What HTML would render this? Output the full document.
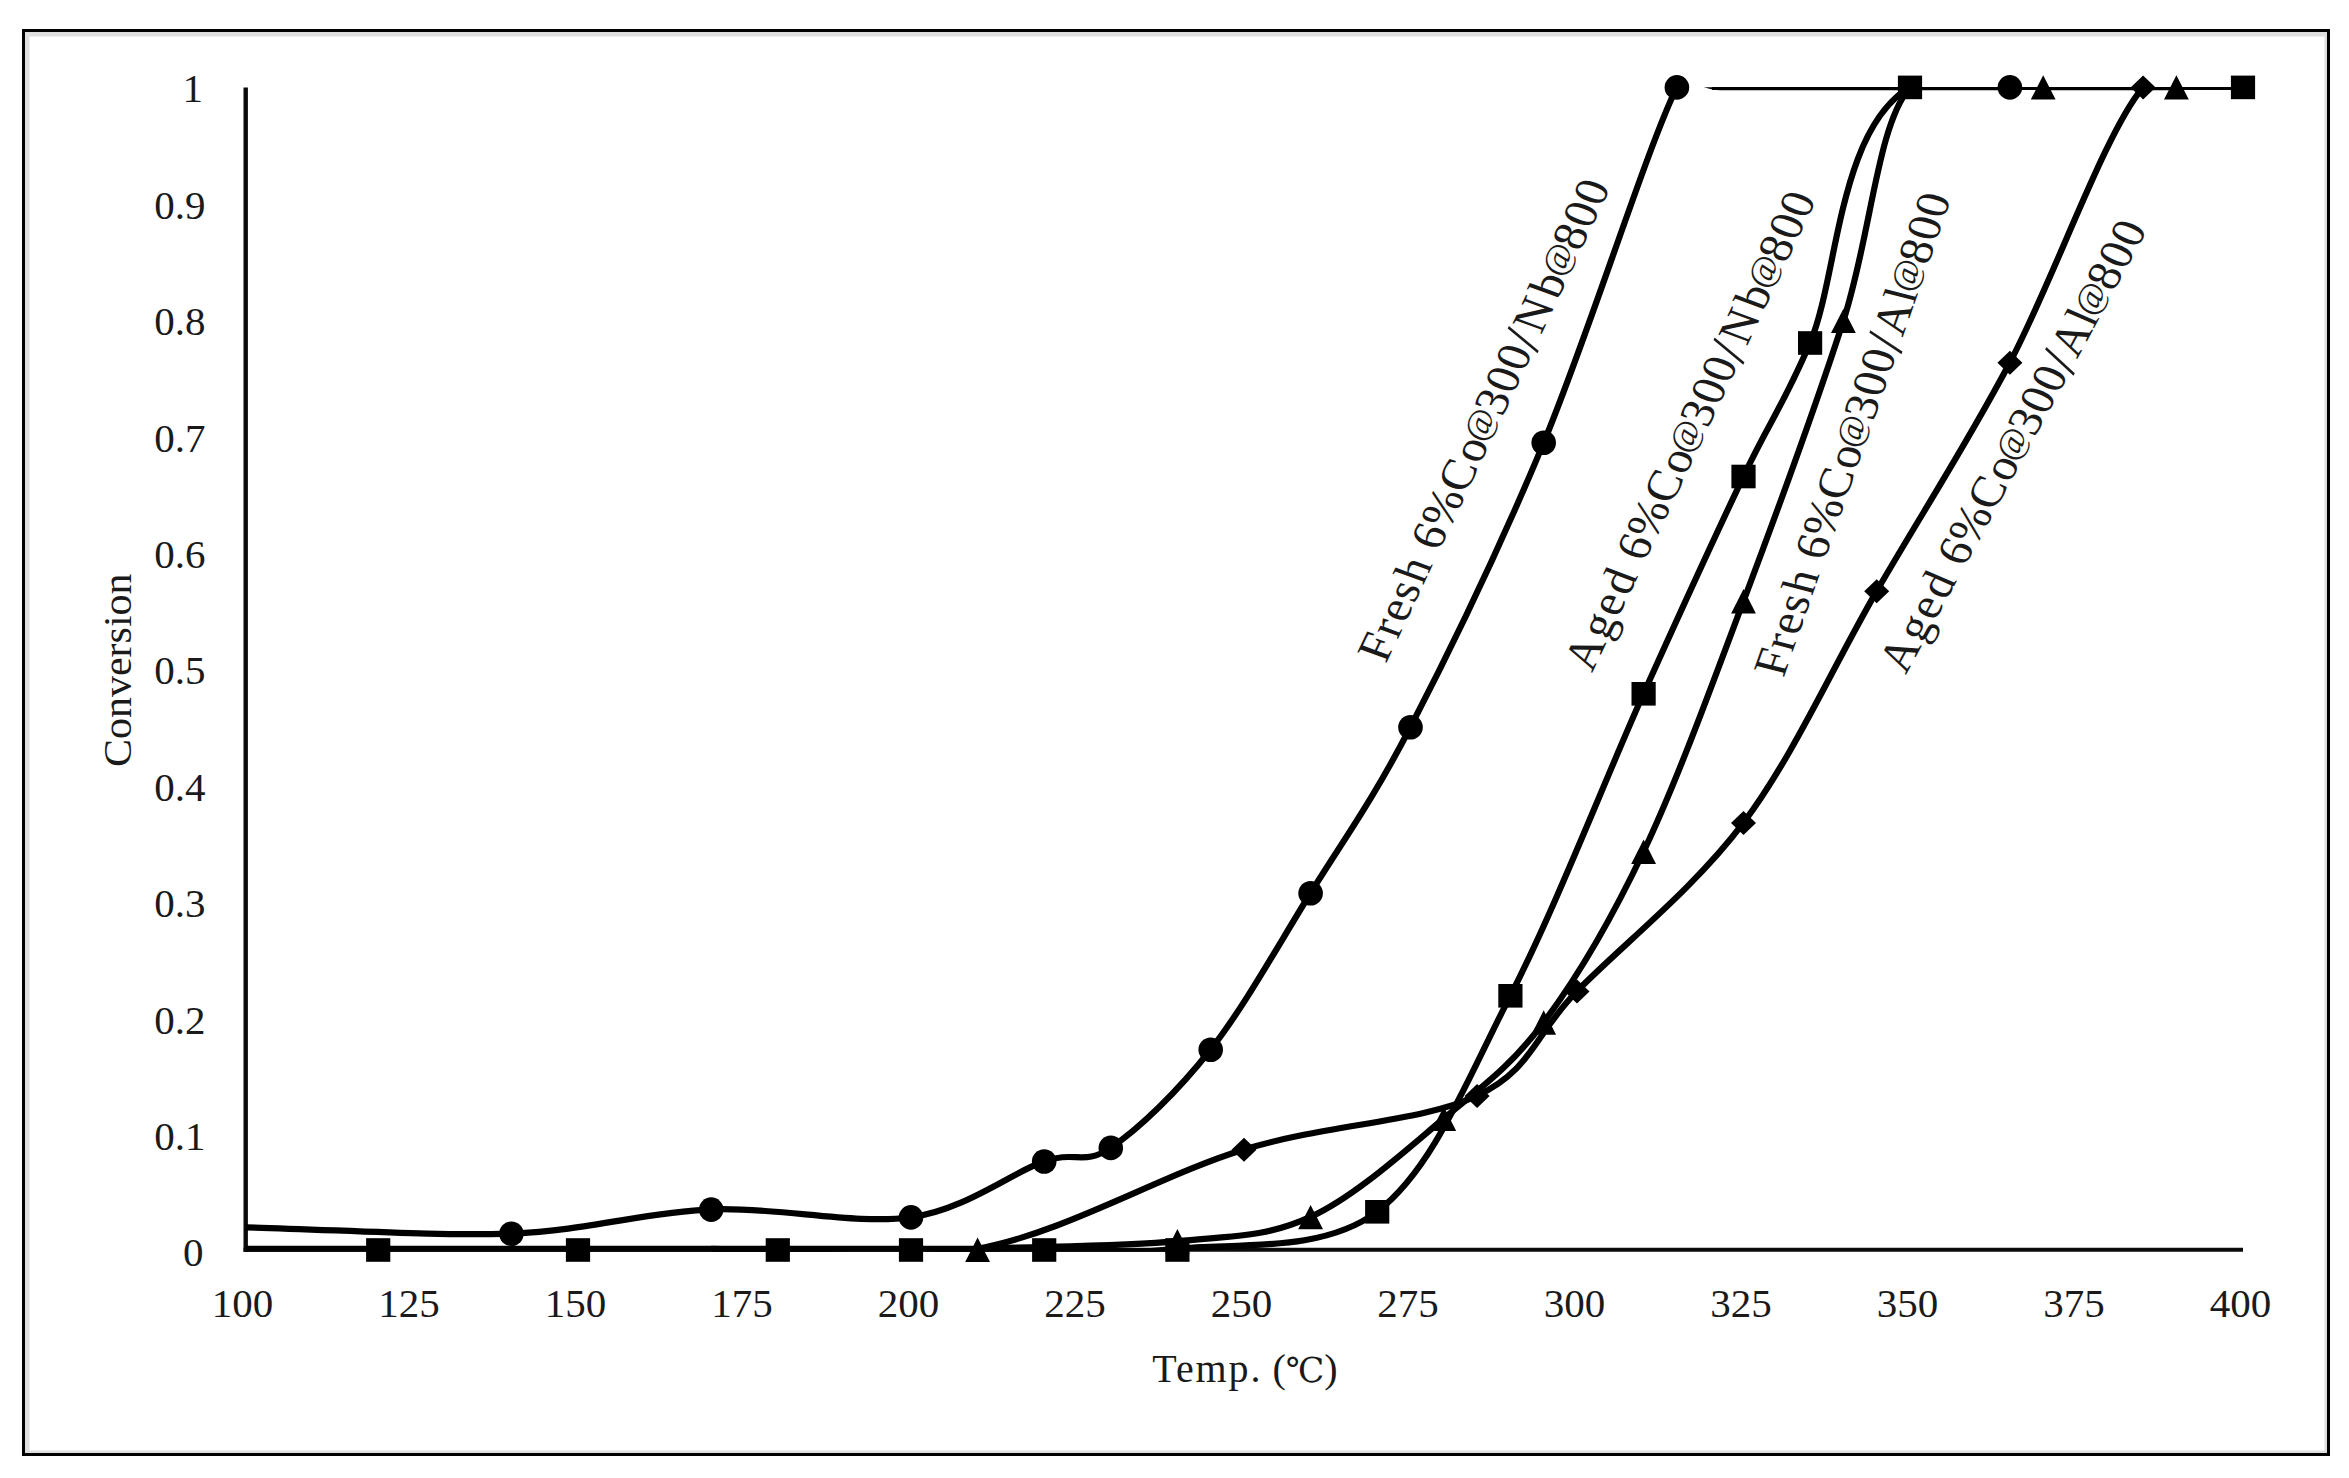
<!DOCTYPE html>
<html lang="en"><head><meta charset="utf-8"><title>Conversion vs Temp.</title>
<style>html,body{margin:0;padding:0;background:#fff}svg{display:block}text{font-family:"Liberation Serif","Noto Serif CJK SC","DejaVu Serif",serif;fill:#1a1a1a}</style></head><body>
<svg width="2349" height="1478" viewBox="0 0 2349 1478">
<rect x="0" y="0" width="2349" height="1478" fill="#fff"/>
<rect x="25" y="32" width="4.5" height="1421" fill="#dedede"/><rect x="25" y="32" width="2302" height="4.5" fill="#dedede"/>
<rect x="2324.5" y="32" width="2.5" height="1421" fill="#dedede"/><rect x="25" y="1450.5" width="2302" height="2.5" fill="#dedede"/>
<rect x="23.5" y="30.5" width="2305" height="1424" fill="none" stroke="#000" stroke-width="3"/>
<g stroke="#0a0a0a" fill="none">
<line x1="245.7" y1="87.5" x2="245.7" y2="1251.7" stroke-width="4.4"/>
<line x1="243.5" y1="1249.7" x2="2243" y2="1249.7" stroke-width="4"/>
</g>
<g font-size="41" text-anchor="end">
<text x="203.5" y="1266.4">0</text>
<text x="205.5" y="1150.0">0.1</text>
<text x="205.5" y="1033.6">0.2</text>
<text x="205.5" y="917.1">0.3</text>
<text x="205.5" y="800.7">0.4</text>
<text x="205.5" y="684.3">0.5</text>
<text x="205.5" y="567.9">0.6</text>
<text x="205.5" y="451.5">0.7</text>
<text x="205.5" y="335.0">0.8</text>
<text x="205.5" y="218.6">0.9</text>
<text x="203.0" y="102.2">1</text>
</g>
<g font-size="41" text-anchor="middle">
<text x="242.5" y="1316.9">100</text>
<text x="409.0" y="1316.9">125</text>
<text x="575.5" y="1316.9">150</text>
<text x="742.0" y="1316.9">175</text>
<text x="908.5" y="1316.9">200</text>
<text x="1075.0" y="1316.9">225</text>
<text x="1241.5" y="1316.9">250</text>
<text x="1408.0" y="1316.9">275</text>
<text x="1574.5" y="1316.9">300</text>
<text x="1741.0" y="1316.9">325</text>
<text x="1907.5" y="1316.9">350</text>
<text x="2074.0" y="1316.9">375</text>
<text x="2240.5" y="1316.9">400</text>
</g>
<text x="1245" y="1382.1" font-size="40" text-anchor="middle"><tspan letter-spacing="1.9">Temp.</tspan> (<tspan font-family="'DejaVu Serif','Noto Serif CJK SC',serif" font-size="34.5">℃</tspan>)</text>
<text transform="translate(131.2 670.2) rotate(-90)" font-size="41" text-anchor="middle" textLength="193.5" lengthAdjust="spacingAndGlyphs">Conversion</text>
<defs><clipPath id="plot"><rect x="246" y="87.2" width="2010" height="1164.6"/></clipPath></defs>
<g stroke="#000" stroke-width="6.2" fill="none" stroke-linejoin="round" clip-path="url(#plot)">
<path d="M245.0 1227.3 C333.8 1229.4 433.7 1236.4 511.4 1233.5 C589.1 1230.5 644.6 1212.1 711.2 1209.4 C777.8 1206.7 855.5 1225.2 911.0 1217.2 C966.5 1209.2 1010.9 1172.9 1044.2 1161.3 C1076.3 1150.2 1083.1 1166.4 1110.8 1147.7 C1138.6 1129.1 1177.4 1091.9 1210.7 1049.5 C1244.0 1007.0 1277.3 946.7 1310.6 893.0 C1343.9 839.3 1371.7 802.1 1410.5 727.0 C1449.3 652.0 1499.3 549.3 1543.7 442.6 C1588.1 336.0 1647.5 146.4 1676.9 87.2 C1686.5 67.8 1698.5 87.2 1720.2 87.2 C1775.7 87.2 1913.3 87.2 2009.9 87.2"/>
<path d="M211.7 1248.8 C267.2 1248.8 317.1 1248.8 378.2 1248.8 C439.2 1248.8 511.4 1248.8 578.0 1248.8 C644.6 1248.8 722.3 1248.8 777.8 1248.8 C833.3 1248.8 866.6 1248.8 911.0 1248.8 C955.4 1248.8 999.8 1248.8 1044.2 1248.8 C1088.6 1248.8 1121.9 1255.0 1177.4 1248.8 C1232.9 1242.6 1321.7 1253.8 1377.2 1211.6 C1432.7 1169.4 1466.0 1081.9 1510.4 995.6 C1554.8 909.2 1604.8 780.1 1643.6 693.6 C1682.5 607.0 1715.8 534.8 1743.5 476.3 C1771.2 417.9 1782.4 407.6 1810.1 342.8 C1837.9 277.9 1837.8 129.8 1910.0 87.2 C1982.2 44.6 2132.0 87.2 2243.0 87.2"/>
<path d="M977.6 1248.8 C1044.2 1246.2 1121.9 1246.5 1177.4 1241.1 C1232.9 1235.8 1266.2 1237.3 1310.6 1216.9 C1355.0 1196.4 1404.9 1150.9 1443.8 1118.5 C1482.7 1086.0 1510.4 1066.8 1543.7 1022.3 C1577.0 977.8 1610.3 921.7 1643.6 851.5 C1676.9 781.3 1710.2 689.6 1743.5 601.1 C1776.8 512.6 1815.7 406.3 1843.4 320.7 C1871.2 235.0 1876.7 126.1 1910.0 87.2 C1943.3 48.3 1998.8 87.2 2043.2 87.2 C2087.6 87.2 2132.0 87.2 2176.4 87.2"/>
<path d="M711.2 1248.8 C800.0 1248.8 888.8 1265.4 977.6 1248.8 C1066.4 1232.2 1160.8 1175.0 1244.0 1149.5 C1327.2 1124.0 1421.6 1122.2 1477.1 1095.8 C1532.6 1069.4 1532.6 1036.7 1577.0 991.2 C1621.4 945.6 1693.5 889.4 1743.5 822.7 C1793.5 756.0 1832.3 667.8 1876.7 591.1 C1921.1 514.4 1965.5 446.5 2009.9 362.5 C2054.3 278.5 2104.3 133.1 2143.1 87.2 C2175.4 49.1 2209.7 87.2 2243.0 87.2"/>
</g>
<rect x="1712" y="87" width="520" height="3" fill="#000"/>
<g fill="#000">
<circle cx="511.4" cy="1233.7" r="12.3"/>
<circle cx="711.2" cy="1209.6" r="12.3"/>
<circle cx="911.0" cy="1217.4" r="12.3"/>
<circle cx="1044.2" cy="1161.5" r="12.3"/>
<circle cx="1110.8" cy="1147.9" r="12.3"/>
<circle cx="1210.7" cy="1049.7" r="12.3"/>
<circle cx="1310.6" cy="893.2" r="12.3"/>
<circle cx="1410.5" cy="727.2" r="12.3"/>
<circle cx="1543.7" cy="442.8" r="12.3"/>
<circle cx="1676.9" cy="87.4" r="12.3"/>
<circle cx="2009.9" cy="87.4" r="12.3"/>
<path d="M1244.0 1137.7l12.5 12l-12.5 12l-12.5 -12z"/>
<path d="M1477.1 1084.0l12.5 12l-12.5 12l-12.5 -12z"/>
<path d="M1577.0 979.4l12.5 12l-12.5 12l-12.5 -12z"/>
<path d="M1743.5 810.9l12.5 12l-12.5 12l-12.5 -12z"/>
<path d="M1876.7 579.3l12.5 12l-12.5 12l-12.5 -12z"/>
<path d="M2009.9 350.7l12.5 12l-12.5 12l-12.5 -12z"/>
<path d="M2143.1 75.4l12.5 12l-12.5 12l-12.5 -12z"/>
<path d="M977.6 1237.6l12.4 24.4h-24.8z"/>
<path d="M1177.4 1229.1l12.4 24.4h-24.8z"/>
<path d="M1310.6 1204.9l12.4 24.4h-24.8z"/>
<path d="M1443.8 1106.5l12.4 24.4h-24.8z"/>
<path d="M1543.7 1010.3l12.4 24.4h-24.8z"/>
<path d="M1643.6 839.5l12.4 24.4h-24.8z"/>
<path d="M1743.5 589.1l12.4 24.4h-24.8z"/>
<path d="M1843.4 308.7l12.4 24.4h-24.8z"/>
<path d="M2043.2 75.2l12.4 24.4h-24.8z"/>
<path d="M2176.4 75.2l12.4 24.4h-24.8z"/>
<rect x="366.1" y="1238.2" width="24.2" height="23.6"/>
<rect x="565.9" y="1238.2" width="24.2" height="23.6"/>
<rect x="765.7" y="1238.2" width="24.2" height="23.6"/>
<rect x="898.9" y="1238.2" width="24.2" height="23.6"/>
<rect x="1032.1" y="1238.2" width="24.2" height="23.6"/>
<rect x="1165.3" y="1238.2" width="24.2" height="23.6"/>
<rect x="1365.1" y="1200.0" width="24.2" height="23.6"/>
<rect x="1498.3" y="984.0" width="24.2" height="23.6"/>
<rect x="1631.5" y="682.0" width="24.2" height="23.6"/>
<rect x="1731.4" y="464.7" width="24.2" height="23.6"/>
<rect x="1798.0" y="331.2" width="24.2" height="23.6"/>
<rect x="1897.9" y="75.6" width="24.2" height="23.6"/>
<rect x="2230.9" y="75.6" width="24.2" height="23.6"/>
</g>
<text transform="translate(1386.0 664.0) rotate(-64.76) skewX(5)" font-size="47" x="-0.3 26.8 44.3 66.3 86.8 111.8 123.9 147.7 187.2 219.9 241.9 272.4 297.0 321.6 345.4 363.6 402.0 424.7 455.2 479.7 504.3" y="0">Fresh 6%Co<tspan font-size="35" dy="-6.0">@</tspan><tspan dy="6.0">3</tspan>00<tspan font-size="56" dy="4.0">/</tspan><tspan dy="-4.0">N</tspan>b<tspan font-size="35" dy="-6.0">@</tspan><tspan dy="6.0">8</tspan>00</text>
<text transform="translate(1591.7 674.0) rotate(-64.65) skewX(5)" font-size="47" x="0.8 36.6 61.6 85.3 110.9 123.0 146.6 186.1 218.7 240.7 271.1 295.6 320.1 343.9 362.1 400.3 423.0 453.4 477.9 502.4" y="0">Aged 6%Co<tspan font-size="35" dy="-6.0">@</tspan><tspan dy="6.0">3</tspan>00<tspan font-size="56" dy="4.0">/</tspan><tspan dy="-4.0">N</tspan>b<tspan font-size="35" dy="-6.0">@</tspan><tspan dy="6.0">8</tspan>00</text>
<text transform="translate(1783.5 678.0) rotate(-70.72) skewX(5)" font-size="47" x="-0.3 26.7 44.1 66.0 86.5 111.4 123.5 147.1 186.5 219.2 241.1 271.5 296.0 320.5 344.3 360.4 395.3 406.2 436.6 461.1 485.6" y="0">Fresh 6%Co<tspan font-size="35" dy="-6.0">@</tspan><tspan dy="6.0">3</tspan>00<tspan font-size="56" dy="4.0">/</tspan><tspan dy="-4.0">A</tspan>l<tspan font-size="35" dy="-6.0">@</tspan><tspan dy="6.0">8</tspan>00</text>
<text transform="translate(1905.3 676.0) rotate(-61.52) skewX(5)" font-size="47" x="0.8 36.6 61.6 85.3 110.9 122.9 146.6 186.0 218.7 240.6 271.1 295.6 320.1 343.8 360.0 394.9 405.8 436.2 460.7 485.2" y="0">Aged 6%Co<tspan font-size="35" dy="-6.0">@</tspan><tspan dy="6.0">3</tspan>00<tspan font-size="56" dy="4.0">/</tspan><tspan dy="-4.0">A</tspan>l<tspan font-size="35" dy="-6.0">@</tspan><tspan dy="6.0">8</tspan>00</text>
</svg></body></html>
